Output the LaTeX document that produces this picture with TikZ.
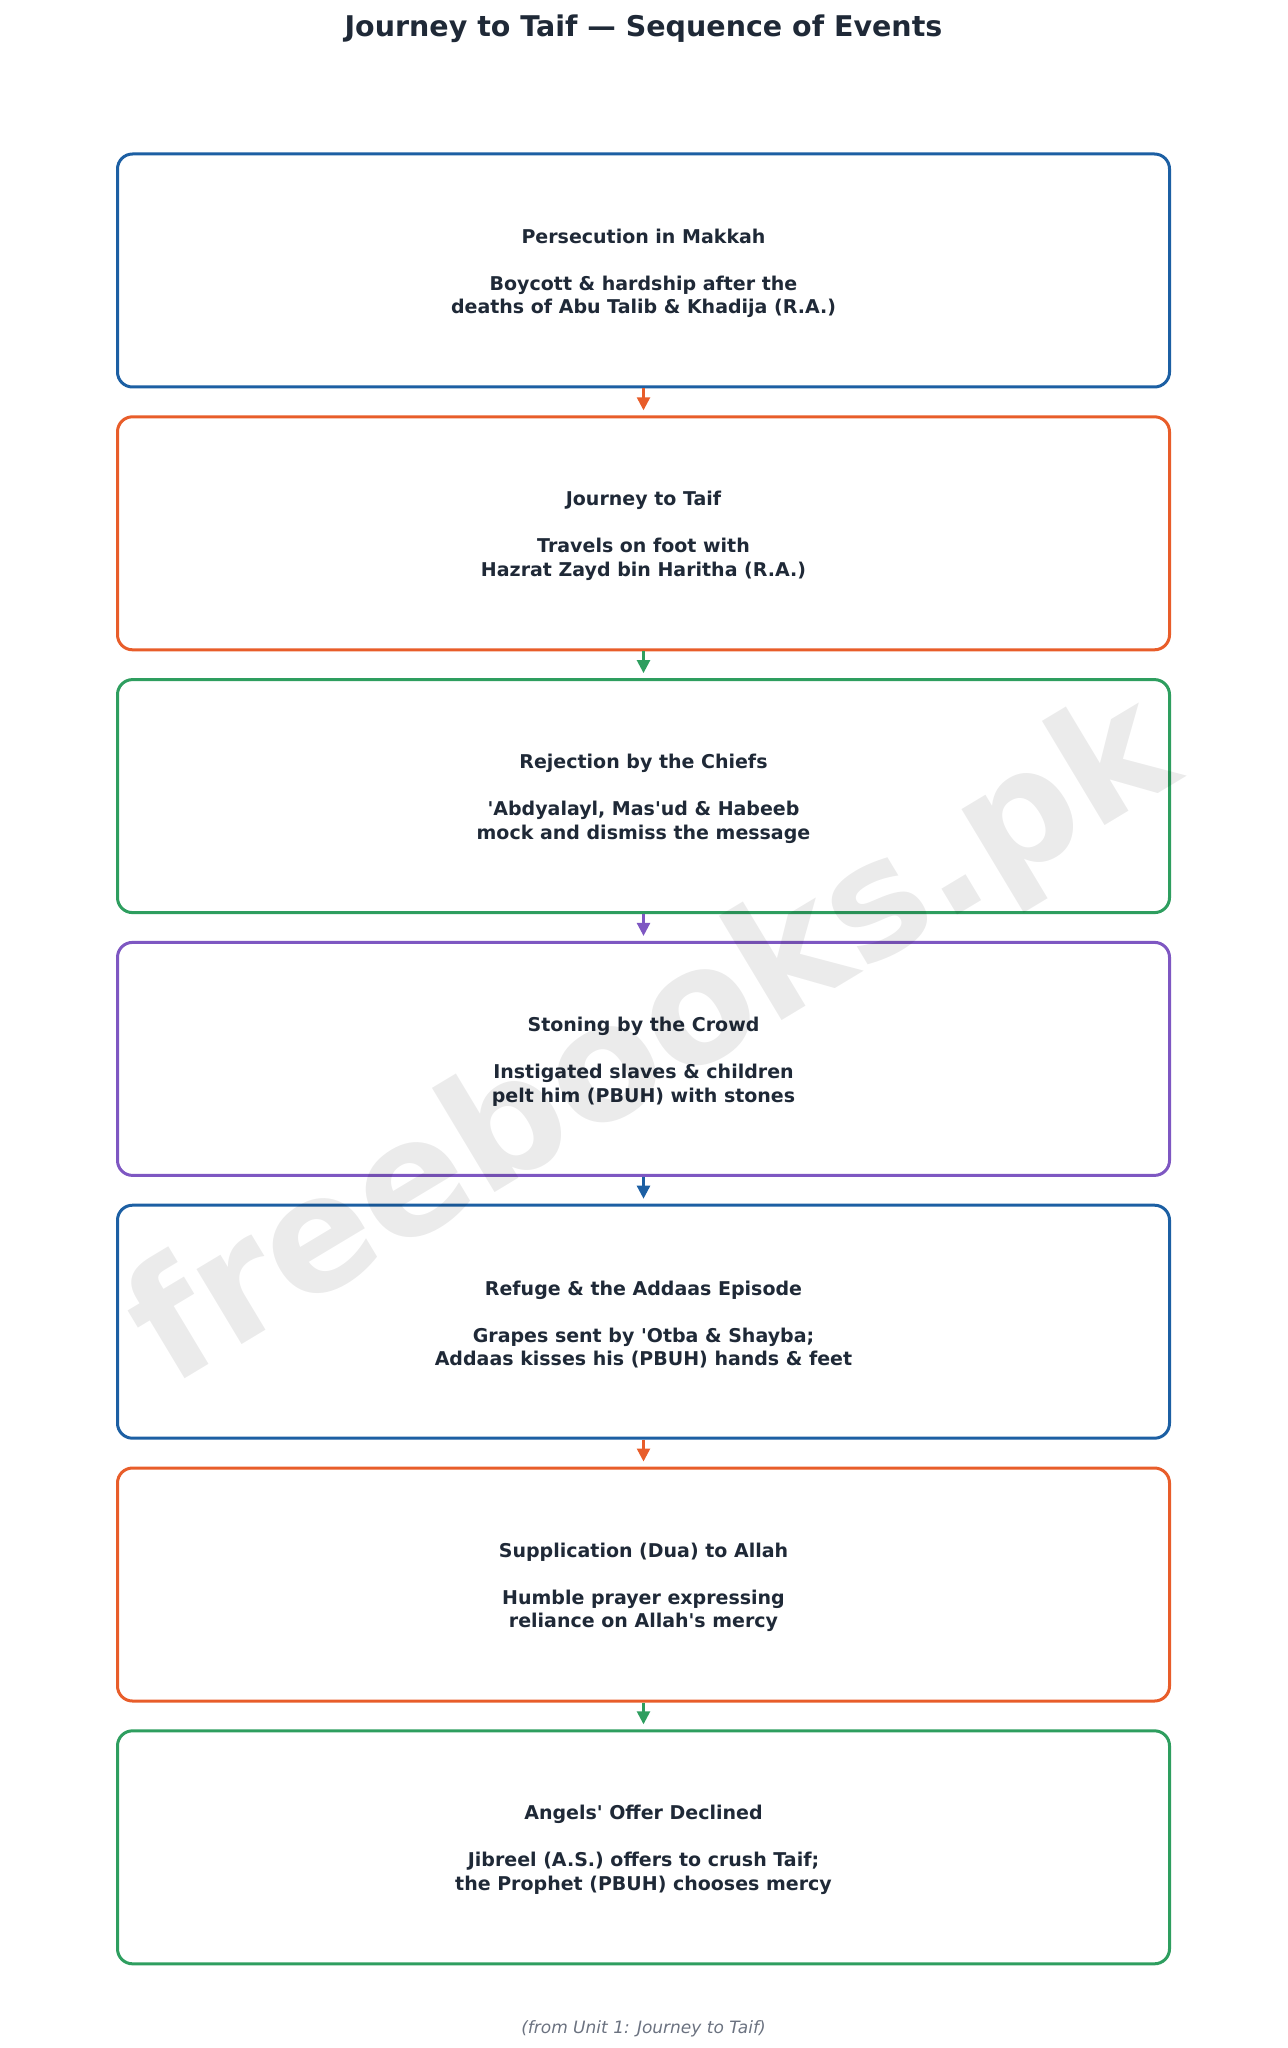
\documentclass[tikz,border=0pt]{standalone}
\usepackage{fontspec}
\setmainfont{DejaVu Sans}
\usetikzlibrary{arrows.meta}
\definecolor{cblue}{HTML}{1C5FA3}
\definecolor{corange}{HTML}{E85D2A}
\definecolor{cgreen}{HTML}{2E9E5F}
\definecolor{cpurple}{HTML}{7E57C2}
\definecolor{ctext}{HTML}{1F2937}
\definecolor{cfoot}{HTML}{6B7280}
\newcommand{\apos}{\textquotesingle}
\newcommand{\topstrut}{\rule{0pt}{9.9pt}}
\tikzset{
  eventbox/.style={draw=#1, line width=1.5pt, rounded corners=7.5pt, rectangle,
    minimum width=526pt, minimum height=116.5pt, inner sep=0pt,
    align=center, text=ctext, font=\bfseries\fontsize{9.5}{11.75}\selectfont},
  flowarrow/.style={draw=#1, fill=#1, line width=1.25pt, -{Triangle[length=6.5pt,width=6.5pt]}, shorten >=2.5pt}
}
\begin{document}
\begin{tikzpicture}[x=0.5pt,y=-0.5pt]
\useasboundingbox (0,0) rectangle (1287,2048);
\node[text=ctext, font=\bfseries\fontsize{14.25}{16}\selectfont] (title) at (643.5,28.5) {Journey to Taif — Sequence of Events};
\node[eventbox=cblue] (b1) at (643.5,270.5) {\topstrut Persecution in Makkah\\[11.75pt]Boycott \& hardship after the\\deaths of Abu Talib \& Khadija (R.A.)};
\node[eventbox=corange] (b2) at (643.5,533.3) {\topstrut Journey to Taif\\[11.75pt]Travels on foot with\\Hazrat Zayd bin Haritha (R.A.)};
\node[eventbox=cgreen] (b3) at (643.5,796.1) {\topstrut Rejection by the Chiefs\\[11.75pt]\apos Abdyalayl, Mas\apos ud \& Habeeb\\mock and dismiss the message};
\node[eventbox=cpurple] (b4) at (643.5,1058.9) {\topstrut Stoning by the Crowd\\[11.75pt]Instigated slaves \& children\\pelt him (PBUH) with stones};
\node[eventbox=cblue] (b5) at (643.5,1321.7) {\topstrut Refuge \& the Addaas Episode\\[11.75pt]Grapes sent by \apos Otba \& Shayba;\\Addaas kisses his (PBUH) hands \& feet};
\node[eventbox=corange] (b6) at (643.5,1584.5) {\topstrut Supplication (Dua) to Allah\\[11.75pt]Humble prayer expressing\\reliance on Allah\apos s mercy};
\node[eventbox=cgreen] (b7) at (643.5,1847.3) {\topstrut Angels\apos{} Offer Declined\\[11.75pt]Jibreel (A.S.) offers to crush Taif;\\the Prophet (PBUH) chooses mercy};
\draw[flowarrow=corange] (b1.south) -- (b2.north);
\draw[flowarrow=cgreen] (b2.south) -- (b3.north);
\draw[flowarrow=cpurple] (b3.south) -- (b4.north);
\draw[flowarrow=cblue] (b4.south) -- (b5.north);
\draw[flowarrow=corange] (b5.south) -- (b6.north);
\draw[flowarrow=cgreen] (b6.south) -- (b7.north);
\node[text=cfoot, font=\itshape\fontsize{8.5}{10}\selectfont] (foot) at (643.5,2028.5) {(from Unit 1: Journey to Taif)};
\node[text=black, text opacity=0.08, font=\bfseries\fontsize{80}{80}\selectfont, rotate=31] (wm) at (655,1045) {freebooks.pk};
\end{tikzpicture}
\end{document}
